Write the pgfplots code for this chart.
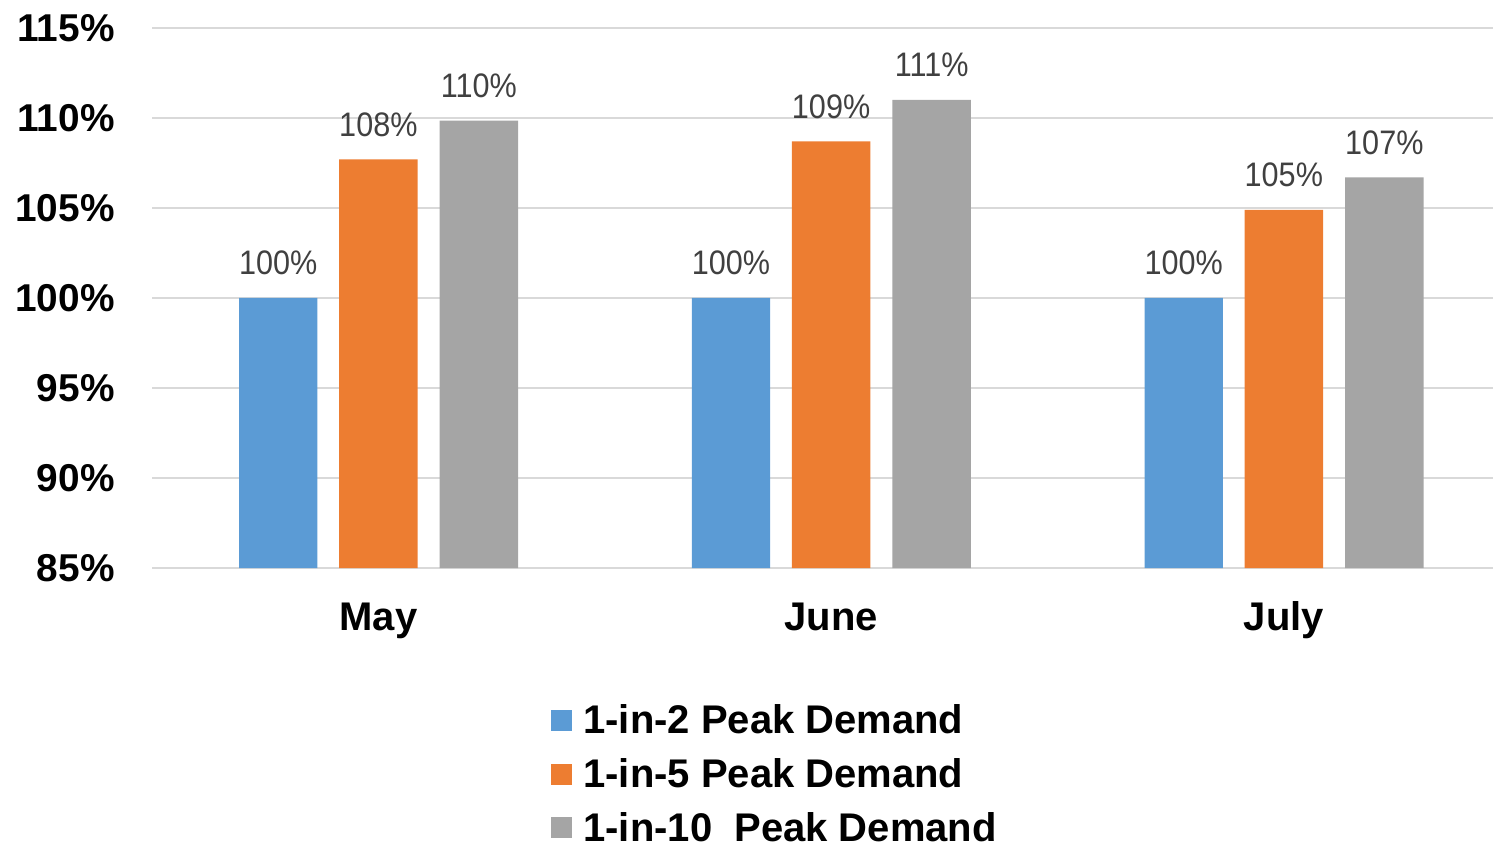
\documentclass[border=0pt]{standalone}
\usepackage{fontspec}
\setmainfont{Liberation Sans}
\usepackage{graphicx}
\usepackage{pgfplots}
\pgfplotsset{compat=1.18}
\definecolor{cblue}{HTML}{5B9BD5}
\definecolor{corange}{HTML}{ED7D31}
\definecolor{cgray}{HTML}{A5A5A5}
\definecolor{gridc}{HTML}{D9D9D9}
\definecolor{labc}{HTML}{404040}
\begin{document}
\begin{tikzpicture}
\begin{axis}[
  width=670.5pt, height=270pt, scale only axis,
  xmin=-0.5, xmax=2.462, ymin=85, ymax=115,
  ytick={85,90,95,100,105,110,115},
  yticklabel={\pgfmathprintnumber{\tick}\%},
  /pgf/number format/assume math mode=true,
  xtick={0,1,2}, xticklabels={May,June,July},
  axis line style={draw=none},
  xtick style={draw=none}, ytick style={draw=none},
  ymajorgrids, grid style={gridc, line width=1.1pt},
  yticklabel style={font=\bfseries\fontsize{19.4}{22}\selectfont, inner sep=0pt, xshift=-18.5pt, text=black},
  xticklabel style={font=\bfseries\fontsize{20}{24}\selectfont, inner sep=0pt, text height=14.4pt, text depth=0pt, yshift=-16.5pt, text=black},
  bar width=0.173,
  point meta=y,
  nodes near coords={\scalebox{0.9}[1]{\pgfmathprintnumber[fixed,precision=0]{\pgfplotspointmeta}\%}},
  nodes near coords style={anchor=base, inner sep=0pt, yshift=11.5pt, font=\fontsize{17}{20}\selectfont, text=labc},
  legend style={at={(0.2975,-0.2515)}, anchor=north west, draw=none, fill=none,
    font=\bfseries\fontsize{20}{24}\selectfont, inner sep=0pt, column sep=5.5pt, row sep=12.3pt,
    nodes={inner sep=0pt, text height=14.6pt, text depth=0pt}},
  legend cell align=left,
  legend image code/.code={\fill[#1] (0pt,-6pt) rectangle (10.5pt,4.5pt);},
]
\addplot[ybar, bar shift=0pt, fill=cblue, draw=none] coordinates {(-0.221,100) (0.779,100) (1.779,100)};
\addplot[ybar, bar shift=0pt, fill=corange, draw=none] coordinates {(0,107.7) (1,108.7) (2,104.9)};
\addplot[ybar, bar shift=0pt, fill=cgray, draw=none] coordinates {(0.222,109.85) (1.222,111.0) (2.222,106.7)};
\legend{1-in-2 Peak Demand, 1-in-5 Peak Demand, 1-in-10~ Peak Demand}
\end{axis}
\pgfresetboundingbox
\path[use as bounding box] ([xshift=-76pt,yshift=-138.5pt]current axis.south west) rectangle ([yshift=14pt]current axis.north east);
\end{tikzpicture}
\end{document}
